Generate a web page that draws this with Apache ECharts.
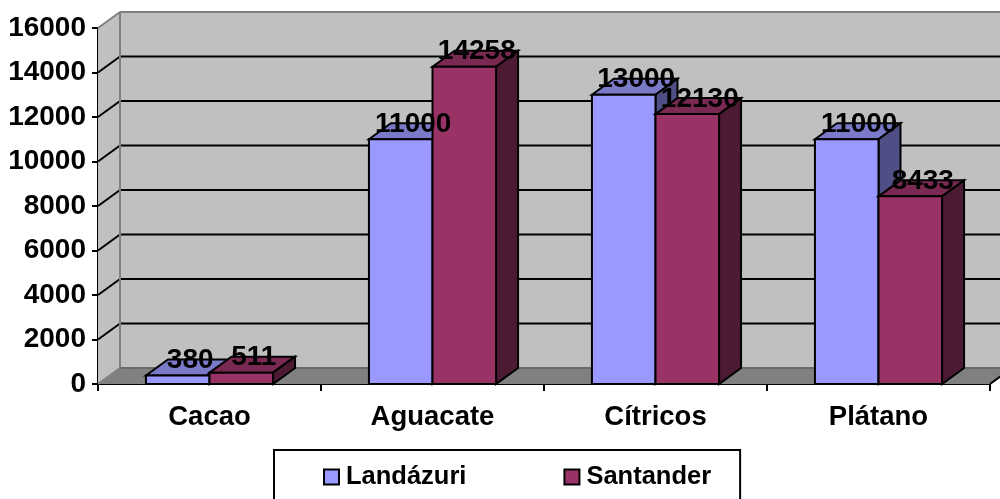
<!DOCTYPE html>
<html>
<head>
<meta charset="utf-8">
<style>html,body{margin:0;padding:0;background:#fff}#c{width:1000px;height:499px}</style>
<script src="https://cdn.jsdelivr.net/npm/echarts@6/dist/echarts.min.js"></script>
</head>
<body>
<div id="c"></div>
<script>
const categories = ['Cacao', 'Aguacate', 'Cítricos', 'Plátano'];
const landazuri = [380, 11000, 13000, 11000];
const santander = [511, 14258, 12130, 8433];
const yTicks = [0, 2000, 4000, 6000, 8000, 10000, 12000, 14000, 16000];
const seriesNames = ['Landázuri', 'Santander'];

const DX = 22, DY = -16, FONT = '"Liberation Sans", Arial, sans-serif';
const palette = [
  { face: '#9999FF', top: '#7A7AC8', side: '#4F4F85' },
  { face: '#993366', top: '#7A2952', side: '#4D1A33' }
];

function poly(points, fill, stroke, width) {
  return { type: 'polygon', shape: { points }, style: { fill, stroke: stroke || null, lineWidth: width || 0, lineJoin: 'miter' } };
}
function seg(x1, y1, x2, y2, stroke, width) {
  return { type: 'line', shape: { x1, y1, x2, y2 }, style: { stroke, lineWidth: width } };
}

function renderWalls(params, api) {
  const g = params.coordSys;
  const L = g.x, R = g.x + g.width, B = g.y + g.height, T = g.y;
  const kids = [
    poly([[L + DX, T + DY], [R + DX, T + DY], [R + DX, B + DY], [L + DX, B + DY]], '#C0C0C0'),
    poly([[L, T], [L + DX, T + DY], [L + DX, B + DY], [L, B]], '#C0C0C0'),
    poly([[L, B], [L + DX, B + DY], [R + DX, B + DY], [R, B]], '#808080')
  ];
  yTicks.forEach(function (v) {
    if (v === 0 || v === 16000) return;
    const y = api.coord([0, v])[1];
    kids.push(seg(L, y, L + DX, y + DY, '#000', 2));
    kids.push(seg(L + DX, y + DY, R + DX, y + DY, '#000', 2));
  });
  kids.push(seg(L, T, L + DX, T + DY, '#808080', 2));
  kids.push(seg(L + DX, T + DY, R + DX, T + DY, '#808080', 2));
  kids.push(seg(L + DX, T + DY, L + DX, B + DY, '#808080', 2));
  kids.push(seg(L + DX, B + DY, R + DX, B + DY, '#6A6A6A', 2));
  kids.push(seg(L, B, L + DX, B + DY, '#808080', 2));
  kids.push(seg(R, B, R + DX, B + DY, '#000', 2));
  return { type: 'group', children: kids };
}

function barRender(idx) {
  return function (params, api) {
    const p = api.coord([api.value(0), api.value(1)]);
    const base = api.coord([api.value(0), 0])[1];
    const w = api.size([1, 0])[0] * 0.285;
    const x0 = idx === 0 ? p[0] - w : p[0];
    const x1 = x0 + w, top = p[1];
    const c = palette[idx];
    return { type: 'group', children: [
      poly([[x0, top], [x0 + DX, top + DY], [x1 + DX, top + DY], [x1, top]], c.top, '#000', 2),
      poly([[x1, top], [x1 + DX, top + DY], [x1 + DX, base + DY], [x1, base]], c.side, '#000', 2),
      poly([[x0, top], [x1, top], [x1, base], [x0, base]], c.face, '#000', 2)
    ]};
  };
}

function labelRender(idx) {
  return function (params, api) {
    const p = api.coord([api.value(0), api.value(1)]);
    const w = api.size([1, 0])[0] * 0.285;
    const cx = (idx === 0 ? p[0] - w / 2 : p[0] + w / 2) + DX / 2 + 1.5;
    return { type: 'text', style: {
      text: String(api.value(1)), x: cx, y: p[1] - 15,
      align: 'center', verticalAlign: 'middle',
      font: 'bold 28px ' + FONT, fill: '#000'
    }};
  };
}

const chart = echarts.init(document.getElementById('c'), null, { renderer: 'canvas' });
const pairs = function (arr) { return arr.map(function (v, i) { return [i, v]; }); };

chart.setOption({
  animation: false,
  backgroundColor: '#fff',
  grid: { left: 98, right: 10, top: 28, bottom: 115, containLabel: false },
  xAxis: {
    type: 'category', data: categories, boundaryGap: true,
    axisLine: { show: true, lineStyle: { color: '#000', width: 2 } },
    axisTick: { show: true, alignWithLabel: false, length: 7, lineStyle: { color: '#000', width: 2 } },
    axisLabel: { color: '#000', fontFamily: FONT, fontWeight: 'bold', fontSize: 27.5, margin: 19, interval: 0 },
    splitLine: { show: false }
  },
  yAxis: {
    type: 'value', min: 0, max: 16000, interval: 2000,
    axisLine: { show: true, lineStyle: { color: '#000', width: 2 } },
    axisTick: { show: true, length: 6, lineStyle: { color: '#000', width: 2 } },
    axisLabel: { color: '#000', fontFamily: FONT, fontWeight: 'bold', fontSize: 28, margin: 12, formatter: function (v) { return String(v); } },
    splitLine: { show: false }
  },
  legend: {
    show: true, data: seriesNames, left: 274, top: 450,
    orient: 'horizontal', itemWidth: 15, itemHeight: 15, itemGap: 97,
    padding: [14, 29, 40, 49],
    backgroundColor: '#fff', borderColor: '#000', borderWidth: 2,
    icon: 'rect',
    textStyle: { color: '#000', fontFamily: FONT, fontWeight: 'bold', fontSize: 25.5, padding: [3, 0, 0, 2] }
  },
  series: [
    { type: 'custom', name: 'walls', z: 1, silent: true, clip: false, data: [[0, 0]], encode: { x: 0, y: 1 }, renderItem: renderWalls },
    { type: 'custom', name: seriesNames[0], z: 2, clip: false, data: pairs(landazuri), encode: { x: 0, y: 1 }, renderItem: barRender(0),
      itemStyle: { color: palette[0].face, borderColor: '#000', borderWidth: 2 } },
    { type: 'custom', name: seriesNames[1], z: 3, clip: false, data: pairs(santander), encode: { x: 0, y: 1 }, renderItem: barRender(1),
      itemStyle: { color: palette[1].face, borderColor: '#000', borderWidth: 2 } },
    { type: 'custom', name: 'labels-a', z: 6, silent: true, clip: false, data: pairs(landazuri), encode: { x: 0, y: 1 }, renderItem: labelRender(0) },
    { type: 'custom', name: 'labels-b', z: 6, silent: true, clip: false, data: pairs(santander), encode: { x: 0, y: 1 }, renderItem: labelRender(1) }
  ]
});
</script>
</body>
</html>
